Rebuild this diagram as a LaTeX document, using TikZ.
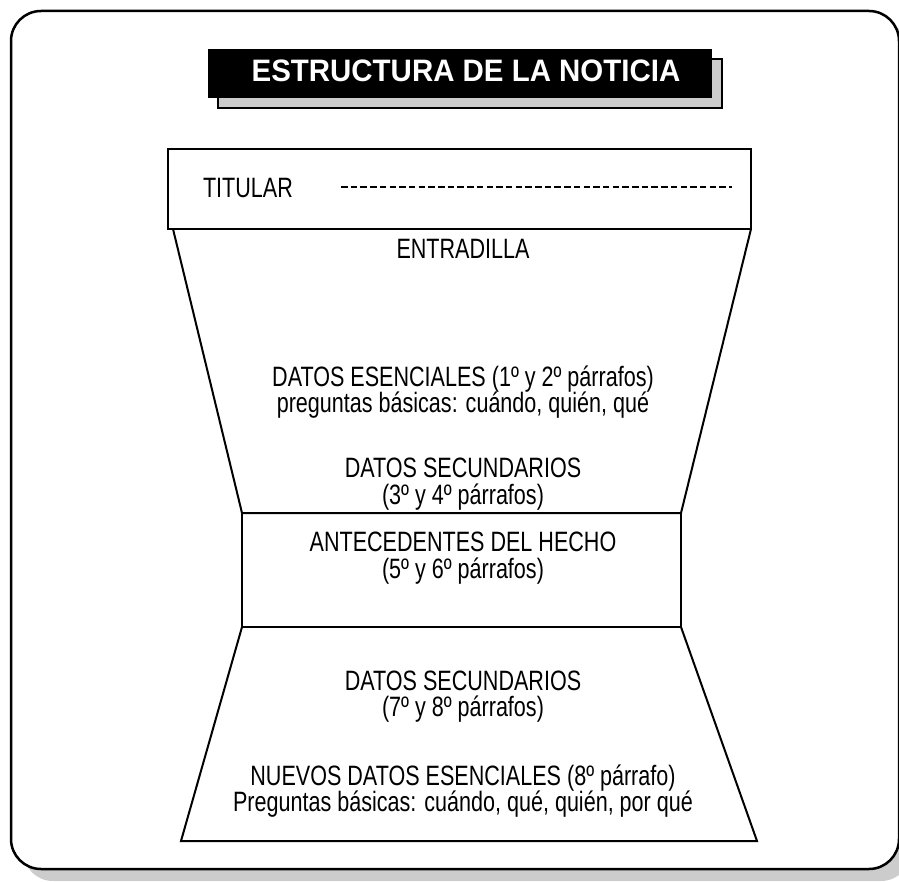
\documentclass[tikz,border=0pt]{standalone}
\usepackage{fontspec}
\usepackage{tikz}
\usepackage{xcolor}
\setmainfont{Liberation Sans}[FakeStretch = 0.77]
\newfontfamily\titulofont{Liberation Sans}[FakeStretch = 0.95]
\definecolor{sombra}{RGB}{204, 204, 204}

\begin{document}
\begin{tikzpicture}[x = 1pt, y = -1pt, line width = 2pt, linea/.style = {inner sep = 0pt, anchor = base, font = \fontsize{28}{29}\selectfont}]
\useasboundingbox (0,0) rectangle (899,882);
\fill[sombra, rounded corners = 30pt] (23,23) rectangle (911,881);
\draw[fill = white, line width = 2.5pt, rounded corners = 30pt] (11,11) rectangle (899,869);
\draw[fill = sombra, line width = 1.5pt] (218,59) rectangle (722,108);
\fill[black] (208,49) rectangle (712,98);
\node[inner sep = 0pt, text = white, font = \titulofont\bfseries\fontsize{31}{32}\selectfont] (titulo) at (466,71) {ESTRUCTURA DE LA NOTICIA};
\draw (168,149) rectangle (751,229);
\node[linea, anchor = base west] (titular) at (202,198) {TITULAR};
\draw[dash pattern = on 6.5pt off 3.2pt] (341,187) -- (732,187);
\draw (173,229) -- (242,513) -- (681,513) -- (751,229);
\draw (242,513) rectangle (681,627);
\draw (242,627) -- (181,841) -- (757,841) -- (681,627);
\node[linea] (entradilla) at (463,259) {ENTRADILLA};
\node[linea] (esenciales) at (463,386) {DATOS ESENCIALES (1º y 2º párrafos)};
\node[linea] (preguntasA) at (463,412) {preguntas básicas: cuándo, quién, qué};
\node[linea] (secundariosA) at (463,477) {DATOS SECUNDARIOS};
\node[linea] (parrafosA) at (463,504) {(3º y 4º párrafos)};
\node[linea] (antecedentes) at (463,551) {ANTECEDENTES DEL HECHO};
\node[linea] (parrafosB) at (463,578) {(5º y 6º párrafos)};
\node[linea] (secundariosB) at (463,690) {DATOS SECUNDARIOS};
\node[linea] (parrafosC) at (463,716) {(7º y 8º párrafos)};
\node[linea] (nuevos) at (463,785) {NUEVOS DATOS ESENCIALES (8º párrafo)};
\node[linea] (preguntasB) at (463,811) {Preguntas básicas: cuándo, qué, quién, por qué};
\end{tikzpicture}
\end{document}
